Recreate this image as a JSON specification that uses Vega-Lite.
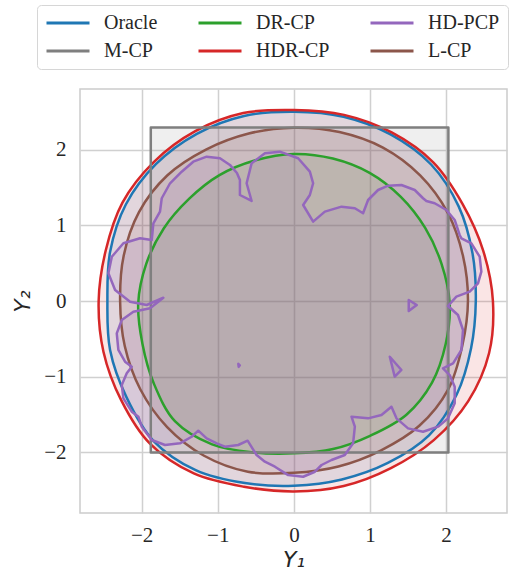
{
"$schema": "https://vega.github.io/schema/vega-lite/v6.json",
"width": 427, "height": 424,
"autosize": {"type": "none"},
"padding": {"left": 80, "top": 89, "right": 8, "bottom": 65},
"background": "white",
"config": {
 "view": {"stroke": "#cccccc", "strokeWidth": 1.5},
 "axis": {"grid": true, "gridColor": "#d0d0d0", "gridWidth": 1.5, "domain": false, "ticks": false,
  "labelFont": "Liberation Serif", "labelFontSize": 21, "labelColor": "#262626",
  "titleFont": "DejaVu Sans", "titleFontStyle": "italic", "titleFontWeight": "normal", "titleFontSize": 22, "titleColor": "#262626"}
},
"datasets": {
 "smooth": [
  {"method":"Oracle","poly":"o","i":0,"x":2.39,"y":0.0},{"method":"Oracle","poly":"o","i":1,"x":2.347,"y":0.629},{"method":"Oracle","poly":"o","i":2,"x":2.165,"y":1.25},{"method":"Oracle","poly":"o","i":3,"x":1.803,"y":1.803},{"method":"Oracle","poly":"o","i":4,"x":1.27,"y":2.2},{"method":"Oracle","poly":"o","i":5,"x":0.652,"y":2.434},{"method":"Oracle","poly":"o","i":6,"x":0.0,"y":2.5},{"method":"Oracle","poly":"o","i":7,"x":-0.655,"y":2.444},{"method":"Oracle","poly":"o","i":8,"x":-1.275,"y":2.208},{"method":"Oracle","poly":"o","i":9,"x":-1.81,"y":1.81},{"method":"Oracle","poly":"o","i":10,"x":-2.208,"y":1.275},{"method":"Oracle","poly":"o","i":11,"x":-2.415,"y":0.647},{"method":"Oracle","poly":"o","i":12,"x":-2.45,"y":0.0},{"method":"Oracle","poly":"o","i":13,"x":-2.415,"y":-0.647},{"method":"Oracle","poly":"o","i":14,"x":-2.2,"y":-1.27},{"method":"Oracle","poly":"o","i":15,"x":-1.846,"y":-1.846},{"method":"Oracle","poly":"o","i":16,"x":-1.29,"y":-2.234},{"method":"Oracle","poly":"o","i":17,"x":-0.644,"y":-2.405},{"method":"Oracle","poly":"o","i":18,"x":0.0,"y":-2.44},{"method":"Oracle","poly":"o","i":19,"x":0.631,"y":-2.357},{"method":"Oracle","poly":"o","i":20,"x":1.235,"y":-2.139},{"method":"Oracle","poly":"o","i":21,"x":1.775,"y":-1.775},{"method":"Oracle","poly":"o","i":22,"x":2.139,"y":-1.235},{"method":"Oracle","poly":"o","i":23,"x":2.328,"y":-0.624},
  {"method":"DR-CP","poly":"d","i":0,"x":2.047,"y":-0.03},{"method":"DR-CP","poly":"d","i":1,"x":1.94,"y":0.49},{"method":"DR-CP","poly":"d","i":2,"x":1.725,"y":0.965},{"method":"DR-CP","poly":"d","i":3,"x":1.405,"y":1.375},{"method":"DR-CP","poly":"d","i":4,"x":0.995,"y":1.692},{"method":"DR-CP","poly":"d","i":5,"x":0.512,"y":1.881},{"method":"DR-CP","poly":"d","i":6,"x":0.0,"y":1.942},{"method":"DR-CP","poly":"d","i":7,"x":-0.505,"y":1.858},{"method":"DR-CP","poly":"d","i":8,"x":-0.978,"y":1.662},{"method":"DR-CP","poly":"d","i":9,"x":-1.378,"y":1.348},{"method":"DR-CP","poly":"d","i":10,"x":-1.71,"y":0.958},{"method":"DR-CP","poly":"d","i":11,"x":-1.94,"y":0.49},{"method":"DR-CP","poly":"d","i":12,"x":-2.045,"y":-0.03},{"method":"DR-CP","poly":"d","i":13,"x":-1.99,"y":-0.565},{"method":"DR-CP","poly":"d","i":14,"x":-1.84,"y":-1.09},{"method":"DR-CP","poly":"d","i":15,"x":-1.56,"y":-1.59},{"method":"DR-CP","poly":"d","i":16,"x":-1.075,"y":-1.893},{"method":"DR-CP","poly":"d","i":17,"x":-0.528,"y":-2.0},{"method":"DR-CP","poly":"d","i":18,"x":0.0,"y":-2.012},{"method":"DR-CP","poly":"d","i":19,"x":0.515,"y":-1.955},{"method":"DR-CP","poly":"d","i":20,"x":1.008,"y":-1.777},{"method":"DR-CP","poly":"d","i":21,"x":1.475,"y":-1.505},{"method":"DR-CP","poly":"d","i":22,"x":1.815,"y":-1.078},{"method":"DR-CP","poly":"d","i":23,"x":1.995,"y":-0.565},
  {"method":"L-CP","poly":"l","i":0,"x":2.287,"y":0.0},{"method":"L-CP","poly":"l","i":1,"x":2.222,"y":0.595},{"method":"L-CP","poly":"l","i":2,"x":2.02,"y":1.167},{"method":"L-CP","poly":"l","i":3,"x":1.659,"y":1.659},{"method":"L-CP","poly":"l","i":4,"x":1.17,"y":2.026},{"method":"L-CP","poly":"l","i":5,"x":0.598,"y":2.232},{"method":"L-CP","poly":"l","i":6,"x":0.0,"y":2.289},{"method":"L-CP","poly":"l","i":7,"x":-0.593,"y":2.212},{"method":"L-CP","poly":"l","i":8,"x":-1.155,"y":2.0},{"method":"L-CP","poly":"l","i":9,"x":-1.661,"y":1.661},{"method":"L-CP","poly":"l","i":10,"x":-2.035,"y":1.175},{"method":"L-CP","poly":"l","i":11,"x":-2.236,"y":0.599},{"method":"L-CP","poly":"l","i":12,"x":-2.283,"y":0.0},{"method":"L-CP","poly":"l","i":13,"x":-2.222,"y":-0.595},{"method":"L-CP","poly":"l","i":14,"x":-2.018,"y":-1.165},{"method":"L-CP","poly":"l","i":15,"x":-1.665,"y":-1.665},{"method":"L-CP","poly":"l","i":16,"x":-1.18,"y":-2.044},{"method":"L-CP","poly":"l","i":17,"x":-0.604,"y":-2.255},{"method":"L-CP","poly":"l","i":18,"x":0.0,"y":-2.27},{"method":"L-CP","poly":"l","i":19,"x":0.585,"y":-2.185},{"method":"L-CP","poly":"l","i":20,"x":1.14,"y":-1.975},{"method":"L-CP","poly":"l","i":21,"x":1.648,"y":-1.648},{"method":"L-CP","poly":"l","i":22,"x":2.026,"y":-1.17},{"method":"L-CP","poly":"l","i":23,"x":2.212,"y":-0.593},
  {"method":"HDR-CP","poly":"h","i":0,"x":2.615,"y":0.0},{"method":"HDR-CP","poly":"h","i":1,"x":2.487,"y":0.666},{"method":"HDR-CP","poly":"h","i":2,"x":2.217,"y":1.28},{"method":"HDR-CP","poly":"h","i":3,"x":1.831,"y":1.831},{"method":"HDR-CP","poly":"h","i":4,"x":1.285,"y":2.226},{"method":"HDR-CP","poly":"h","i":5,"x":0.659,"y":2.458},{"method":"HDR-CP","poly":"h","i":6,"x":0.0,"y":2.523},{"method":"HDR-CP","poly":"h","i":7,"x":-0.665,"y":2.482},{"method":"HDR-CP","poly":"h","i":8,"x":-1.295,"y":2.243},{"method":"HDR-CP","poly":"h","i":9,"x":-1.838,"y":1.838},{"method":"HDR-CP","poly":"h","i":10,"x":-2.252,"y":1.3},{"method":"HDR-CP","poly":"h","i":11,"x":-2.473,"y":0.663},{"method":"HDR-CP","poly":"h","i":12,"x":-2.565,"y":0.0},{"method":"HDR-CP","poly":"h","i":13,"x":-2.502,"y":-0.67},{"method":"HDR-CP","poly":"h","i":14,"x":-2.269,"y":-1.31},{"method":"HDR-CP","poly":"h","i":15,"x":-1.888,"y":-1.888},{"method":"HDR-CP","poly":"h","i":16,"x":-1.315,"y":-2.278},{"method":"HDR-CP","poly":"h","i":17,"x":-0.657,"y":-2.453},{"method":"HDR-CP","poly":"h","i":18,"x":0.0,"y":-2.515},{"method":"HDR-CP","poly":"h","i":19,"x":0.655,"y":-2.444},{"method":"HDR-CP","poly":"h","i":20,"x":1.275,"y":-2.208},{"method":"HDR-CP","poly":"h","i":21,"x":1.838,"y":-1.838},{"method":"HDR-CP","poly":"h","i":22,"x":2.291,"y":-1.323},{"method":"HDR-CP","poly":"h","i":23,"x":2.565,"y":-0.687}
 ],
 "polys": [
  {"method":"M-CP","poly":"m","i":0,"x":-1.88,"y":-2.0},{"method":"M-CP","poly":"m","i":1,"x":2.03,"y":-2.0},{"method":"M-CP","poly":"m","i":2,"x":2.03,"y":2.29},{"method":"M-CP","poly":"m","i":3,"x":-1.88,"y":2.29},
  {"method":"HD-PCP","poly":"p0","i":0,"x":-1.867,"y":0.806},{"method":"HD-PCP","poly":"p0","i":1,"x":-1.846,"y":1.026},{"method":"HD-PCP","poly":"p0","i":2,"x":-1.759,"y":1.18},{"method":"HD-PCP","poly":"p0","i":3,"x":-1.736,"y":1.357},{"method":"HD-PCP","poly":"p0","i":4,"x":-1.627,"y":1.555},{"method":"HD-PCP","poly":"p0","i":5,"x":-1.474,"y":1.708},{"method":"HD-PCP","poly":"p0","i":6,"x":-1.322,"y":1.84},{"method":"HD-PCP","poly":"p0","i":7,"x":-1.146,"y":1.906},{"method":"HD-PCP","poly":"p0","i":8,"x":-0.971,"y":1.885},{"method":"HD-PCP","poly":"p0","i":9,"x":-0.84,"y":1.797},{"method":"HD-PCP","poly":"p0","i":10,"x":-0.748,"y":1.691},{"method":"HD-PCP","poly":"p0","i":11,"x":-0.709,"y":1.598},{"method":"HD-PCP","poly":"p0","i":12,"x":-0.709,"y":1.4},{"method":"HD-PCP","poly":"p0","i":13,"x":-0.555,"y":1.321},{"method":"HD-PCP","poly":"p0","i":14,"x":-0.621,"y":1.555},{"method":"HD-PCP","poly":"p0","i":15,"x":-0.555,"y":1.819},{"method":"HD-PCP","poly":"p0","i":16,"x":-0.381,"y":1.951},{"method":"HD-PCP","poly":"p0","i":17,"x":-0.184,"y":1.972},{"method":"HD-PCP","poly":"p0","i":18,"x":0.056,"y":1.885},{"method":"HD-PCP","poly":"p0","i":19,"x":0.21,"y":1.708},{"method":"HD-PCP","poly":"p0","i":20,"x":0.253,"y":1.555},{"method":"HD-PCP","poly":"p0","i":21,"x":0.21,"y":1.4},{"method":"HD-PCP","poly":"p0","i":22,"x":0.122,"y":1.268},{"method":"HD-PCP","poly":"p0","i":23,"x":0.253,"y":1.048},{"method":"HD-PCP","poly":"p0","i":24,"x":0.407,"y":1.18},{"method":"HD-PCP","poly":"p0","i":25,"x":0.626,"y":1.246},{"method":"HD-PCP","poly":"p0","i":26,"x":0.801,"y":1.225},{"method":"HD-PCP","poly":"p0","i":27,"x":0.909,"y":1.159},{"method":"HD-PCP","poly":"p0","i":28,"x":0.975,"y":1.334},{"method":"HD-PCP","poly":"p0","i":29,"x":1.106,"y":1.466},{"method":"HD-PCP","poly":"p0","i":30,"x":1.238,"y":1.523},{"method":"HD-PCP","poly":"p0","i":31,"x":1.413,"y":1.532},{"method":"HD-PCP","poly":"p0","i":32,"x":1.588,"y":1.466},{"method":"HD-PCP","poly":"p0","i":33,"x":1.697,"y":1.357},{"method":"HD-PCP","poly":"p0","i":34,"x":1.741,"y":1.321},{"method":"HD-PCP","poly":"p0","i":35,"x":1.85,"y":1.291},{"method":"HD-PCP","poly":"p0","i":36,"x":2.004,"y":1.202},{"method":"HD-PCP","poly":"p0","i":37,"x":2.113,"y":1.07},{"method":"HD-PCP","poly":"p0","i":38,"x":2.178,"y":0.872},{"method":"HD-PCP","poly":"p0","i":39,"x":2.201,"y":0.828},{"method":"HD-PCP","poly":"p0","i":40,"x":2.332,"y":0.762},{"method":"HD-PCP","poly":"p0","i":41,"x":2.441,"y":0.585},{"method":"HD-PCP","poly":"p0","i":42,"x":2.463,"y":0.387},{"method":"HD-PCP","poly":"p0","i":43,"x":2.419,"y":0.234},{"method":"HD-PCP","poly":"p0","i":44,"x":2.31,"y":0.123},{"method":"HD-PCP","poly":"p0","i":45,"x":2.135,"y":0.057},{"method":"HD-PCP","poly":"p0","i":46,"x":2.025,"y":-0.066},{"method":"HD-PCP","poly":"p0","i":47,"x":2.156,"y":-0.185},{"method":"HD-PCP","poly":"p0","i":48,"x":2.222,"y":-0.383},{"method":"HD-PCP","poly":"p0","i":49,"x":2.201,"y":-0.647},{"method":"HD-PCP","poly":"p0","i":50,"x":2.091,"y":-0.823},{"method":"HD-PCP","poly":"p0","i":51,"x":1.959,"y":-0.889},{"method":"HD-PCP","poly":"p0","i":52,"x":2.047,"y":-0.978},{"method":"HD-PCP","poly":"p0","i":53,"x":2.113,"y":-1.132},{"method":"HD-PCP","poly":"p0","i":54,"x":2.113,"y":-1.351},{"method":"HD-PCP","poly":"p0","i":55,"x":2.025,"y":-1.55},{"method":"HD-PCP","poly":"p0","i":56,"x":1.894,"y":-1.66},{"method":"HD-PCP","poly":"p0","i":57,"x":1.697,"y":-1.727},{"method":"HD-PCP","poly":"p0","i":58,"x":1.5,"y":-1.682},{"method":"HD-PCP","poly":"p0","i":59,"x":1.348,"y":-1.55},{"method":"HD-PCP","poly":"p0","i":60,"x":1.282,"y":-1.396},{"method":"HD-PCP","poly":"p0","i":61,"x":1.151,"y":-1.506},{"method":"HD-PCP","poly":"p0","i":62,"x":0.975,"y":-1.55},{"method":"HD-PCP","poly":"p0","i":63,"x":0.757,"y":-1.528},{"method":"HD-PCP","poly":"p0","i":64,"x":0.801,"y":-1.66},{"method":"HD-PCP","poly":"p0","i":65,"x":0.778,"y":-1.88},{"method":"HD-PCP","poly":"p0","i":66,"x":0.669,"y":-2.034},{"method":"HD-PCP","poly":"p0","i":67,"x":0.495,"y":-2.1},{"method":"HD-PCP","poly":"p0","i":68,"x":0.364,"y":-2.166},{"method":"HD-PCP","poly":"p0","i":69,"x":0.276,"y":-2.255},{"method":"HD-PCP","poly":"p0","i":70,"x":0.122,"y":-2.321},{"method":"HD-PCP","poly":"p0","i":71,"x":-0.075,"y":-2.299},{"method":"HD-PCP","poly":"p0","i":72,"x":-0.249,"y":-2.189},{"method":"HD-PCP","poly":"p0","i":73,"x":-0.381,"y":-2.123},{"method":"HD-PCP","poly":"p0","i":74,"x":-0.49,"y":-2.034},{"method":"HD-PCP","poly":"p0","i":75,"x":-0.608,"y":-1.845},{"method":"HD-PCP","poly":"p0","i":76,"x":-0.731,"y":-1.902},{"method":"HD-PCP","poly":"p0","i":77,"x":-0.906,"y":-1.925},{"method":"HD-PCP","poly":"p0","i":78,"x":-1.014,"y":-1.88},{"method":"HD-PCP","poly":"p0","i":79,"x":-1.146,"y":-1.814},{"method":"HD-PCP","poly":"p0","i":80,"x":-1.256,"y":-1.713},{"method":"HD-PCP","poly":"p0","i":81,"x":-1.343,"y":-1.793},{"method":"HD-PCP","poly":"p0","i":82,"x":-1.496,"y":-1.88},{"method":"HD-PCP","poly":"p0","i":83,"x":-1.693,"y":-1.902},{"method":"HD-PCP","poly":"p0","i":84,"x":-1.867,"y":-1.836},{"method":"HD-PCP","poly":"p0","i":85,"x":-1.999,"y":-1.66},{"method":"HD-PCP","poly":"p0","i":86,"x":-2.043,"y":-1.528},{"method":"HD-PCP","poly":"p0","i":87,"x":-2.13,"y":-1.462},{"method":"HD-PCP","poly":"p0","i":88,"x":-2.24,"y":-1.285},{"method":"HD-PCP","poly":"p0","i":89,"x":-2.261,"y":-1.11},{"method":"HD-PCP","poly":"p0","i":90,"x":-2.196,"y":-0.955},{"method":"HD-PCP","poly":"p0","i":91,"x":-2.13,"y":-0.868},{"method":"HD-PCP","poly":"p0","i":92,"x":-2.218,"y":-0.802},{"method":"HD-PCP","poly":"p0","i":93,"x":-2.306,"y":-0.647},{"method":"HD-PCP","poly":"p0","i":94,"x":-2.327,"y":-0.427},{"method":"HD-PCP","poly":"p0","i":95,"x":-2.261,"y":-0.251},{"method":"HD-PCP","poly":"p0","i":96,"x":-2.109,"y":-0.141},{"method":"HD-PCP","poly":"p0","i":97,"x":-1.89,"y":-0.096},{"method":"HD-PCP","poly":"p0","i":98,"x":-1.715,"y":0.044},{"method":"HD-PCP","poly":"p0","i":99,"x":-1.933,"y":-0.053},{"method":"HD-PCP","poly":"p0","i":100,"x":-2.152,"y":-0.009},{"method":"HD-PCP","poly":"p0","i":101,"x":-2.349,"y":0.145},{"method":"HD-PCP","poly":"p0","i":102,"x":-2.437,"y":0.366},{"method":"HD-PCP","poly":"p0","i":103,"x":-2.392,"y":0.585},{"method":"HD-PCP","poly":"p0","i":104,"x":-2.24,"y":0.762},{"method":"HD-PCP","poly":"p0","i":105,"x":-2.021,"y":0.828},
  {"method":"HD-PCP","poly":"p1","i":0,"x":1.509,"y":0.013},{"method":"HD-PCP","poly":"p1","i":1,"x":1.614,"y":-0.053},{"method":"HD-PCP","poly":"p1","i":2,"x":1.509,"y":-0.132},
  {"method":"HD-PCP","poly":"p2","i":0,"x":1.26,"y":-0.736},{"method":"HD-PCP","poly":"p2","i":1,"x":1.413,"y":-0.911},{"method":"HD-PCP","poly":"p2","i":2,"x":1.325,"y":-1.0},
  {"method":"HD-PCP","poly":"p3","i":0,"x":-0.73,"y":-0.83},{"method":"HD-PCP","poly":"p3","i":1,"x":-0.71,"y":-0.85},{"method":"HD-PCP","poly":"p3","i":2,"x":-0.725,"y":-0.87}
 ]
},
"encoding": {
 "x": {"field": "x", "type": "quantitative", "scale": {"domain": [-2.81, 2.8], "nice": false, "zero": false}, "axis": {"values": [-2, -1, 0, 1, 2], "title": "Y₁", "labelPadding": 11, "titlePadding": 4}},
 "y": {"field": "y", "type": "quantitative", "scale": {"domain": [-2.8, 2.8], "nice": false, "zero": false}, "axis": {"values": [-2, -1, 0, 1, 2], "title": "Y₂", "labelPadding": 14, "titlePadding": 9}},
 "order": {"field": "i", "type": "quantitative"},
 "detail": {"field": "poly", "type": "nominal"}
},
"layer": [
 {"data": {"name": "smooth"}, "mark": {"type": "line", "interpolate": "cardinal-closed", "strokeWidth": 0, "strokeOpacity": 0, "fillOpacity": 0.12},
  "encoding": {"fill": {"field": "method", "type": "nominal", "scale": {"domain": ["DR-CP", "HD-PCP", "HDR-CP", "L-CP", "M-CP", "Oracle"], "range": ["#2ca02c", "#9467bd", "#d62728", "#8c564b", "#7f7f7f", "#1f77b4"]}, "legend": null}}},
 {"data": {"name": "polys"}, "mark": {"type": "line", "interpolate": "linear-closed", "strokeWidth": 0, "strokeOpacity": 0, "fillOpacity": 0.12},
  "encoding": {"fill": {"field": "method", "type": "nominal", "legend": null}}},
 {"data": {"name": "smooth"}, "mark": {"type": "line", "interpolate": "cardinal-closed", "strokeWidth": 2.5},
  "encoding": {"stroke": {"field": "method", "type": "nominal", "scale": {"domain": ["Oracle", "M-CP", "DR-CP", "HDR-CP", "HD-PCP", "L-CP"], "range": ["#1f77b4", "#7f7f7f", "#2ca02c", "#d62728", "#9467bd", "#8c564b"]},
   "legend": {"title": null, "orient": "none", "legendX": -43, "legendY": -84, "columns": 3, "symbolType": "stroke", "symbolSize": 1849, "symbolStrokeWidth": 3,
    "labelFont": "Liberation Serif", "labelFontSize": 20, "labelColor": "#262626", "labelOffset": 13, "columnPadding": 39, "rowPadding": 8, "clipHeight": 20,
    "padding": 8, "strokeColor": "#d6d6d6", "fillColor": "white", "cornerRadius": 4}}}},
 {"data": {"name": "polys"}, "mark": {"type": "line", "interpolate": "linear-closed", "strokeWidth": 2.5, "strokeJoin": "round"},
  "encoding": {"stroke": {"field": "method", "type": "nominal"}}}
]
}
